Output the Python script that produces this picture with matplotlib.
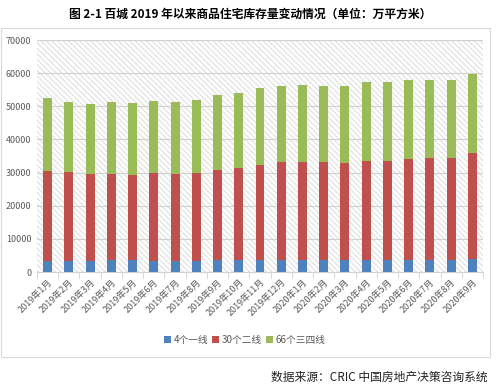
import matplotlib
matplotlib.use("Agg")
import matplotlib.pyplot as plt
from matplotlib.patches import Rectangle
import numpy as np

plt.rcParams["font.family"] = ["Noto Sans CJK SC", "DejaVu Sans"]

months = [
    "2019年1月", "2019年2月", "2019年3月", "2019年4月", "2019年5月", "2019年6月",
    "2019年7月", "2019年8月", "2019年9月", "2019年10月", "2019年11月", "2019年12月",
    "2020年1月", "2020年2月", "2020年3月", "2020年4月", "2020年5月", "2020年6月",
    "2020年7月", "2020年8月", "2020年9月",
]
# stock levels (10k m2)
tier1 = [3300, 3300, 3200, 3500, 3500, 3400, 3300, 3200, 3500, 3500, 3600,
         3700, 3700, 3700, 3700, 3700, 3700, 3700, 3700, 3700, 3800]
tier2_top = [30600, 30100, 29600, 29600, 29300, 29800, 29600, 29800, 30800, 31500, 32300,
             33100, 33100, 33100, 32800, 33600, 33600, 34100, 34400, 34400, 35800]
total = [52400, 51400, 50700, 51400, 51100, 51700, 51400, 51900, 53400, 53900, 55400,
         56100, 56400, 56100, 56100, 57400, 57300, 58000, 58000, 58000, 59800]

tier2 = [b - a for a, b in zip(tier1, tier2_top)]
tier34 = [c - b for b, c in zip(tier2_top, total)]

labels = ["4个一线", "30个二线", "66个三四线"]
colors = ["#4F81BD", "#C0504D", "#9BBB59"]

fig = plt.figure(figsize=(5, 3.9), dpi=100)

# outer chart frame
fig.patches.append(Rectangle((0.002, 1 - 357 / 390), 0.978, (357 - 28) / 390,
                             transform=fig.transFigure, fill=False,
                             edgecolor="#d9d9d9", linewidth=0.8))

ax = fig.add_axes([37 / 500, 1 - 272 / 390, (483 - 37) / 500, (272 - 40) / 390])

x = np.arange(len(months))
ax.set_xlim(-0.5, len(months) - 0.5)
ax.set_ylim(0, 70000)

# hatched plot area background
ax.add_patch(Rectangle((0, 0), 1, 1, transform=ax.transAxes, facecolor="white",
                       edgecolor="#e4e4e4", hatch="\\\\\\\\\\\\", linewidth=0, zorder=0))

ax.yaxis.grid(True, color="#d0d0d0", linewidth=0.8, zorder=1)
ax.set_axisbelow(True)

w = 0.42
ax.bar(x, tier1, w, color=colors[0], label=labels[0], zorder=3)
ax.bar(x, tier2, w, bottom=tier1, color=colors[1], label=labels[1], zorder=3)
ax.bar(x, tier34, w, bottom=tier2_top, color=colors[2], label=labels[2], zorder=3)

for s in ["top", "right", "left"]:
    ax.spines[s].set_visible(False)
ax.spines["bottom"].set_color("#d0d0d0")

ax.set_yticks(range(0, 70001, 10000))
ax.tick_params(axis="y", length=0, labelsize=6.5, labelcolor="#595959", pad=4)
ax.set_xticks(x)
ax.set_xticklabels(months, rotation=45, ha="right", rotation_mode="anchor",
                   fontsize=6.5, color="#595959")
ax.tick_params(axis="x", length=0, pad=4)
ax.set_xticks(np.arange(-0.5, len(months), 1), minor=True)
ax.tick_params(axis="x", which="minor", length=4, color="#d0d0d0")

fig.legend(loc="center", bbox_to_anchor=(0.49, 1 - 340 / 390), ncol=3, frameon=False,
           fontsize=7, handlelength=0.7, handleheight=0.7, handletextpad=0.3,
           columnspacing=0.4, labelcolor="#595959")

fig.text(0.5, 1 - 14 / 390, "图 2-1 百城 2019 年以来商品住宅库存量变动情况（单位：万平方米）",
         ha="center", va="center", fontsize=8.5, fontweight="bold")
fig.text(0.975, 1 - 377 / 390, "数据来源：CRIC 中国房地产决策咨询系统",
         ha="right", va="center", fontsize=8.5, color="#222222")

fig.savefig("out.png", dpi=100)
